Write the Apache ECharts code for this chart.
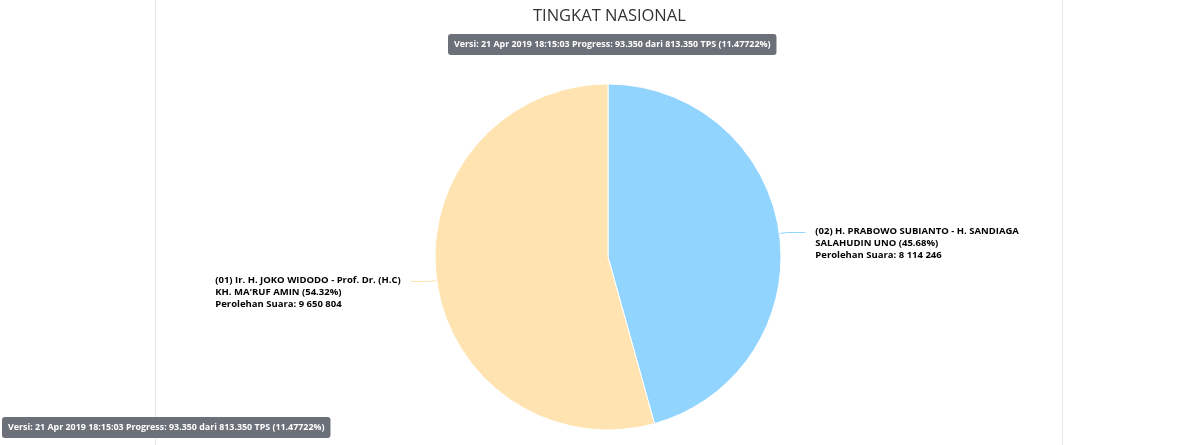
<!DOCTYPE html>
<html>
<head>
<meta charset="utf-8">
<script src="https://cdn.jsdelivr.net/npm/echarts@6/dist/echarts.min.js"></script>
<style>
  html, body { margin: 0; padding: 0; background: #fff; }
  #chart { width: 1200px; height: 445px; }
</style>
</head>
<body>
<div id="chart"></div>
<script>
// Candidate pairs, in drawing order (clockwise from 12 o'clock)
const candidates = [
  '(02) H. PRABOWO SUBIANTO - H. SANDIAGA\nSALAHUDIN UNO',
  '(01) Ir. H. JOKO WIDODO - Prof. Dr. (H.C)\nKH. MA\'RUF AMIN'
];
const votes = [8114246, 9650804];
const sliceColors = ['#91d5ff', '#ffe3b0'];

const chartTitle = 'TINGKAT NASIONAL';
const versionText = 'Versi: 21 Apr 2019 18:15:03 Progress: 93.350 dari 813.350 TPS (11.47722%)';

const FONT = '"Open Sans", "Noto Sans", sans-serif';

// 9650804 -> "9 650 804"
function groupThousands(n) {
  return String(n).replace(/\B(?=(\d{3})+(?!\d))/g, ' ');
}

const pieData = candidates.map((name, i) => ({
  name: name,
  value: votes[i],
  itemStyle: { color: sliceColors[i] },
  labelLine: { lineStyle: { color: sliceColors[i] } }
}));

const versionBadge = {
  backgroundColor: '#6b7079',
  borderRadius: 3,
  padding: [6, 6, 6, 6],
  textStyle: { color: '#fff', fontSize: 8.9, fontWeight: 'bold', fontFamily: FONT }
};

const chart = echarts.init(document.getElementById('chart'));
chart.setOption({
  animation: false,
  backgroundColor: '#fff',
  title: [
    {
      text: chartTitle,
      left: 533,
      top: 8,
      padding: 0,
      textStyle: { color: '#333', fontSize: 16.5, fontWeight: 'normal', fontFamily: FONT }
    },
    Object.assign({ text: versionText, left: 448, top: 34 }, versionBadge),
    Object.assign({ text: versionText, left: 2, top: 417 }, versionBadge)
  ],
  graphic: [
    { type: 'line', z: -10, shape: { x1: 155.5, y1: 0, x2: 155.5, y2: 445 }, style: { stroke: '#e6e6e6', lineWidth: 1 } },
    { type: 'line', z: -10, shape: { x1: 1062.5, y1: 0, x2: 1062.5, y2: 445 }, style: { stroke: '#e6e6e6', lineWidth: 1 } }
  ],
  series: [{
    type: 'pie',
    center: [608, 257],
    radius: [0, 173],
    startAngle: 90,
    clockwise: true,
    avoidLabelOverlap: false,
    emphasis: { disabled: true },
    itemStyle: { borderColor: '#fff', borderWidth: 1 },
    label: {
      show: true,
      position: 'outside',
      distanceToLabelLine: 10,
      padding: [22, 0, 0, 0],
      formatter: function (p) {
        const lines = (p.name + ' (' + p.percent.toFixed(2) + '%)').split('\n');
        lines.push('Perolehan Suara: ' + groupThousands(p.value));
        return lines.map(l => '{t|' + l + '}').join('\n');
      },
      rich: {
        t: { align: 'left', color: '#000', fontSize: 9.5, fontWeight: 'bold', lineHeight: 12, fontFamily: FONT }
      }
    },
    labelLine: { show: true, length: 8, length2: 18, smooth: false, lineStyle: { width: 1 } },
    data: pieData
  }]
});
</script>
</body>
</html>
